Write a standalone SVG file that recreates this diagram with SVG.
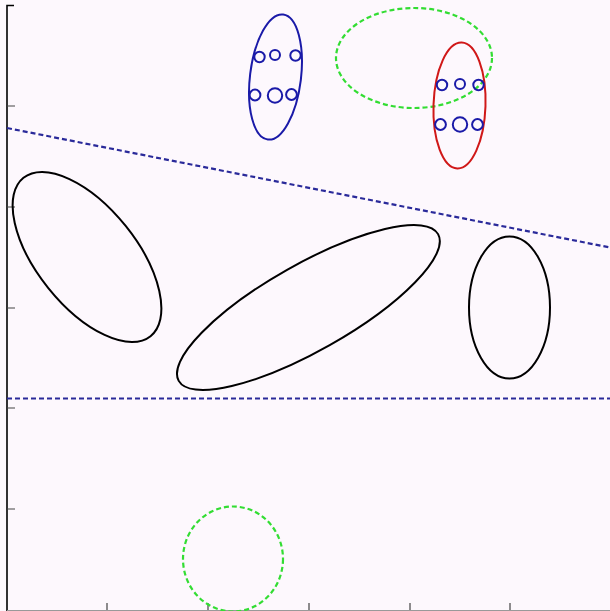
<svg xmlns="http://www.w3.org/2000/svg" width="610" height="611" viewBox="0 0 610 611">
<style>
.ax{stroke:#000;stroke-width:1.6;fill:none}
.tk{stroke:#444;stroke-width:1.2;fill:none}
.blk{stroke:#000;stroke-width:2;fill:none}
.blu{stroke:#1a1aa8;stroke-width:2;fill:none}
.red{stroke:#d01818;stroke-width:2;fill:none}
.grn{stroke:#33dd33;stroke-width:2.2;fill:none;stroke-dasharray:5 3}
.dl{stroke:#2a2a9a;stroke-width:2.2;fill:none;stroke-dasharray:5 3}
</style>
<rect width="610" height="611" fill="#fdf8fd"/>
<g id="axes">
<path class="ax" d="M14,5.5 H7 V611"/>
<path class="tk" d="M7,106 h8 M7,207 h8 M7,308 h8 M7,408 h8 M7,509 h8"/>
<path class="tk" d="M107,611 v-8 M208,611 v-8 M309,611 v-8 M410,611 v-8 M510,611 v-8"/>
<path stroke="#999" stroke-width="1" d="M7,610.5 H610"/>
</g>
<g id="connectors">
<line class="dl" x1="7" y1="128" x2="610" y2="247.5"/>
<line class="dl" x1="7" y1="398.5" x2="610" y2="398.5"/>
</g>
<g id="blue-cluster">
<ellipse class="blu" cx="275.5" cy="77" rx="25.5" ry="63" transform="rotate(7 275.5 77)"/>
<circle class="blu" cx="259.5" cy="57" r="5.2"/>
<circle class="blu" cx="275" cy="55" r="5"/>
<circle class="blu" cx="295.5" cy="55.5" r="5.2"/>
<circle class="blu" cx="255" cy="95" r="5.4"/>
<circle class="blu" cx="275" cy="95.5" r="7.2"/>
<circle class="blu" cx="291.5" cy="94.5" r="5.4"/>
</g>
<g id="green-ellipse">
<ellipse class="grn" cx="414" cy="58" rx="78" ry="50"/>
</g>
<g id="red-cluster">
<ellipse class="red" cx="459.5" cy="105.5" rx="26" ry="63" transform="rotate(2 459.5 105.5)"/>
<circle class="blu" cx="442" cy="85" r="5.2"/>
<circle class="blu" cx="460" cy="84" r="5"/>
<circle class="blu" cx="478.5" cy="85" r="5.2"/>
<circle class="blu" cx="440.5" cy="124.5" r="5.4"/>
<circle class="blu" cx="460" cy="124.5" r="7.2"/>
<circle class="blu" cx="477.5" cy="124.5" r="5.4"/>
</g>
<g id="black-left">
<ellipse class="blk" cx="87" cy="257" rx="101.5" ry="49.6" transform="rotate(51.25 87 257)"/>
</g>
<g id="black-middle">
<ellipse class="blk" cx="308.4" cy="307.5" rx="149" ry="43.3" transform="rotate(-29.5 308.4 307.5)"/>
</g>
<g id="black-right">
<ellipse class="blk" cx="509.5" cy="307.5" rx="40.5" ry="71"/>
</g>
<g id="green-circle">
<ellipse class="grn" cx="233" cy="559" rx="50" ry="52.5"/>
</g>
</svg>
